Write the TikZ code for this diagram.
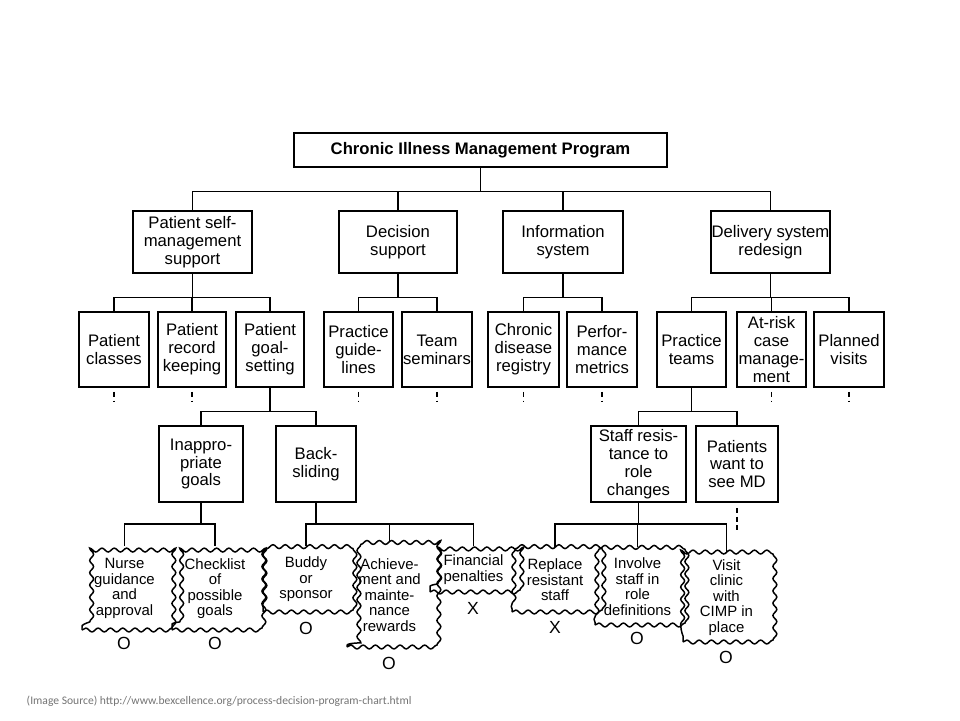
\documentclass[tikz,border=0pt]{standalone}
\usepackage{fontspec}
\setmainfont{Liberation Sans}
\newfontfamily\notefont{Carlito}
\usepackage{tikz}
\usetikzlibrary{decorations.pathmorphing}
\tikzstyle{stub}=[line width=0.8pt, dash pattern=on 3pt off 2pt]
\tikzstyle{mk}=[font=\fontsize{10}{12}\selectfont, inner sep=0pt]

\begin{document}
\begin{tikzpicture}[x=0.02cm, y=-0.02cm, line width=0.85pt,
	box/.style 2 args={draw, inner sep=0pt, align=center, minimum width=#1*0.02cm, minimum height=#2*0.02cm, font=\fontsize{9.5}{10.2}\selectfont},
	cloudbox/.style 2 args={draw, decorate, decoration={snake, segment length=7pt, amplitude=1.1pt}, inner sep=0pt, align=center, minimum width=#1*0.02cm, minimum height=#2*0.02cm, font=\fontsize{8.5}{8.8}\selectfont}]
	\useasboundingbox (0,0) rectangle (960,720);
	\node[box={373}{34}, font=\fontsize{9.5}{11}\selectfont\bfseries] (0) at (480.5,150) {Chronic Illness Management Program};
	% first level
	\node[box={119}{62}] (1) at (192.5,242) {Patient self-\\management\\support};
	\node[box={118}{62}] (2) at (398,242) {Decision\\support};
	\node[box={120}{62}] (3) at (563,242) {Information\\system};
	\node[box={119}{62}] (4) at (770.5,242) {Delivery system\\redesign};
	% second level
	\node[box={70}{75}] (11) at (114,349.5) {Patient\\classes};
	\node[box={68}{75}] (12) at (192,349.5) {Patient\\record\\keeping};
	\node[box={68}{75}] (13) at (270,349.5) {Patient\\goal-\\setting};
	\node[box={69}{75}] (21) at (358.5,349.5) {Practice\\guide-\\lines};
	\node[box={70}{75}] (22) at (437,349.5) {Team\\seminars};
	\node[box={71}{75}] (31) at (523.5,349.5) {Chronic\\disease\\registry};
	\node[box={70}{75}] (32) at (602,349.5) {Perfor-\\mance\\metrics};
	\node[box={69}{75}] (41) at (691.5,349.5) {Practice\\teams};
	\node[box={69}{75}] (42) at (771.5,349.5) {At-risk\\case\\manage-\\ment};
	\node[box={70}{75}] (43) at (849,349.5) {Planned\\visits};
	% third level
	\node[box={84}{76}] (131) at (201,464) {Inappro-\\priate\\goals};
	\node[box={80}{76}] (132) at (316,464) {Back-\\sliding};
	\node[box={95}{76}] (411) at (638.5,464) {Staff resis-\\tance to\\role\\changes};
	\node[box={82}{76}] (412) at (737,464) {Patients\\want to\\see MD};
	% countermeasures
	\node[cloudbox={85}{83}] (1311) at (124.5,588.5) {Nurse\\guidance\\and\\approval};
	\node[cloudbox={86}{83}] (1312) at (215,588.5) {Checklist\\of\\possible\\goals};
	\node[cloudbox={86}{65}] (1321) at (306,579.5) {Buddy\\or\\sponsor};
	\node[cloudbox={85}{104}] (1322) at (389.5,595) {Achieve-\\ment and\\mainte-\\nance\\rewards};
	\node[cloudbox={87}{45}] (1323) at (473.5,569.5) {Financial\\penalties};
	\node[cloudbox={86}{64}] (4111) at (555,580) {Replace\\resistant\\staff};
	\node[cloudbox={85}{77}] (4112) at (637.5,586.5) {Involve\\staff in\\role\\definitions};
	\node[cloudbox={87}{89}] (4113) at (726.5,597.5) {Visit\\clinic\\with\\CIMP in\\place};
	\node[mk] (m1) at (124,643) {O};
	\node[mk] (m2) at (215,643) {O};
	\node[mk] (m3) at (306,628) {O};
	\node[mk] (m4) at (389,663) {O};
	\node[mk] (m5) at (473,608) {X};
	\node[mk] (m6) at (555,627) {X};
	\node[mk] (m7) at (637,638) {O};
	\node[mk] (m8) at (726,657) {O};
	% tree lines
	\foreach \c in {1,2,3,4} \draw (0.south) -- ++(0,24) -| (\c.north);
	\foreach \c in {11,12,13} \draw (1.south) -- ++(0,24) -| (\c.north);
	\foreach \c in {21,22} \draw (2.south) -- ++(0,24) -| (\c.north);
	\foreach \c in {31,32} \draw (3.south) -- ++(0,24) -| (\c.north);
	\foreach \c in {41,42,43} \draw (4.south) -- ++(0,24) -| (\c.north);
	\foreach \c in {131,132} \draw (13.south) -- ++(0,24) -| (\c.north);
	\foreach \c in {411,412} \draw (41.south) -- ++(0,24) -| (\c.north);
	\foreach \c in {1311,1312} \draw (131.south) -- ++(0,21) -| (\c.north);
	\foreach \c in {1321,1322,1323} \draw (132.south) -- ++(0,21) -| (\c.north);
	\foreach \c in {4111,4112,4113} \draw (411.south) -- ++(0,21) -| (\c.north);
	% open ends
	\foreach \c in {11,12,21,22,31,32,42,43} \draw[stub] (\c.south) ++(0,4) -- ++(0,9);
	\draw[stub] (412.south) ++(0,5) -- ++(0,22);
	\node[anchor=west, inner sep=0pt, text=black!55, font=\notefont\fontsize{6.6}{8}\selectfont] (src) at (26,701) {(Image Source) http://www.bexcellence.org/process-decision-program-chart.html};
\end{tikzpicture}
\end{document}
